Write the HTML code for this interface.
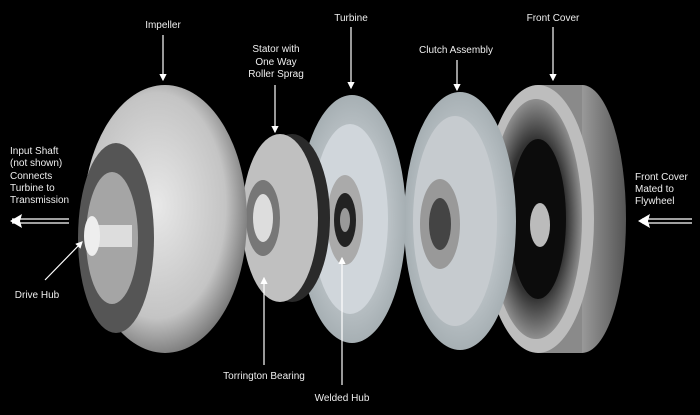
<!DOCTYPE html>
<html><head><style>
html,body{margin:0;padding:0;background:#000;}
svg{display:block}
text{font-family:"Liberation Sans",sans-serif;font-size:10px;fill:#eee;}
</style></head><body>
<svg width="700" height="415" viewBox="0 0 700 415">
<defs>
<radialGradient id="g1" cx="0.45" cy="0.45" r="0.6"><stop offset="0" stop-color="#e8e8e8"/><stop offset="0.7" stop-color="#c4c4c4"/><stop offset="1" stop-color="#6a6a6a"/></radialGradient>
<radialGradient id="g2" cx="0.5" cy="0.5" r="0.6"><stop offset="0" stop-color="#e4e8ec"/><stop offset="1" stop-color="#9aa4a8"/></radialGradient>
<radialGradient id="fc" cx="0.5" cy="0.5" r="0.55"><stop offset="0" stop-color="#111"/><stop offset="0.6" stop-color="#333"/><stop offset="1" stop-color="#aaa"/></radialGradient>
<linearGradient id="rim" x1="0" x2="1"><stop offset="0" stop-color="#666"/><stop offset="0.5" stop-color="#999"/><stop offset="1" stop-color="#555"/></linearGradient>
<marker id="ah" markerWidth="6" markerHeight="6" refX="5" refY="3" orient="auto"><path d="M0,0 L6,3 L0,6z" fill="#fff"/></marker>
</defs>
<rect width="700" height="415" fill="#000"/>
<!-- Front cover -->
<ellipse cx="582" cy="219" rx="44" ry="134" fill="url(#rim)"/>
<rect x="538" y="85" width="44" height="268" fill="#8a8a8a"/>
<ellipse cx="538" cy="219" rx="56" ry="134" fill="#bdbdbd"/>
<ellipse cx="536" cy="219" rx="46" ry="120" fill="url(#fc)"/>
<ellipse cx="538" cy="219" rx="28" ry="80" fill="#0c0c0c"/>
<ellipse cx="540" cy="225" rx="10" ry="22" fill="#bbb"/>
<!-- Clutch -->
<ellipse cx="460" cy="221" rx="56" ry="129" fill="url(#g2)"/>
<ellipse cx="455" cy="221" rx="42" ry="105" fill="#c6cbcf"/>
<ellipse cx="440" cy="224" rx="20" ry="45" fill="#999"/>
<ellipse cx="440" cy="224" rx="11" ry="26" fill="#444"/>
<!-- Turbine -->
<ellipse cx="352" cy="219" rx="54" ry="124" fill="url(#g2)"/>
<ellipse cx="350" cy="219" rx="38" ry="95" fill="#d0d6db"/>
<ellipse cx="345" cy="220" rx="18" ry="45" fill="#aaa"/>
<ellipse cx="345" cy="220" rx="11" ry="27" fill="#222"/>
<ellipse cx="345" cy="220" rx="5" ry="12" fill="#999"/>
<!-- Stator -->
<ellipse cx="292" cy="218" rx="38" ry="84" fill="#2a2a2a"/>
<ellipse cx="280" cy="218" rx="38" ry="84" fill="#c0c0c0"/>
<ellipse cx="263" cy="218" rx="17" ry="38" fill="#777"/>
<ellipse cx="263" cy="218" rx="10" ry="24" fill="#ddd"/>
<!-- Impeller -->
<ellipse cx="165" cy="219" rx="82" ry="134" fill="url(#g1)"/>
<ellipse cx="116" cy="238" rx="38" ry="95" fill="#555"/>
<ellipse cx="112" cy="238" rx="26" ry="66" fill="#a5a5a5"/>
<rect x="92" y="225" width="40" height="22" fill="#ddd"/>
<ellipse cx="92" cy="236" rx="8" ry="20" fill="#eee"/>
<!-- labels -->
<g stroke="#fff" stroke-width="1.2" fill="none">
<line x1="163" y1="35" x2="163" y2="80" marker-end="url(#ah)"/>
<line x1="275" y1="85" x2="275" y2="132" marker-end="url(#ah)"/>
<line x1="351" y1="27" x2="351" y2="88" marker-end="url(#ah)"/>
<line x1="457" y1="60" x2="457" y2="90" marker-end="url(#ah)"/>
<line x1="553" y1="27" x2="553" y2="80" marker-end="url(#ah)"/>
<line x1="45" y1="280" x2="82" y2="242" marker-end="url(#ah)"/>
<line x1="264" y1="365" x2="264" y2="278" marker-end="url(#ah)"/>
<line x1="342" y1="385" x2="342" y2="258" marker-end="url(#ah)"/>
<line x1="69" y1="219" x2="12" y2="219"/><line x1="69" y1="223" x2="12" y2="223"/>
<line x1="692" y1="219" x2="642" y2="219"/><line x1="692" y1="223" x2="642" y2="223"/>
</g>
<path d="M10,221 L22,214 L20,221 L22,228z" fill="#fff"/>
<path d="M638,221 L650,214 L648,221 L650,228z" fill="#fff"/>
<text x="163" y="28" text-anchor="middle">Impeller</text>
<text x="276" y="52" text-anchor="middle">Stator with</text>
<text x="276" y="65" text-anchor="middle">One  Way</text>
<text x="276" y="77" text-anchor="middle">Roller Sprag</text>
<text x="351" y="21" text-anchor="middle">Turbine</text>
<text x="456" y="53" text-anchor="middle">Clutch Assembly</text>
<text x="553" y="21" text-anchor="middle">Front Cover</text>
<text x="10" y="154">Input Shaft</text>
<text x="10" y="166">(not shown)</text>
<text x="10" y="179">Connects</text>
<text x="10" y="191">Turbine to</text>
<text x="10" y="203">Transmission</text>
<text x="635" y="180">Front Cover</text>
<text x="635" y="192">Mated to</text>
<text x="635" y="204">Flywheel</text>
<text x="37" y="298" text-anchor="middle">Drive Hub</text>
<text x="264" y="379" text-anchor="middle">Torrington Bearing</text>
<text x="342" y="401" text-anchor="middle">Welded Hub</text>
</svg>
</body></html>
